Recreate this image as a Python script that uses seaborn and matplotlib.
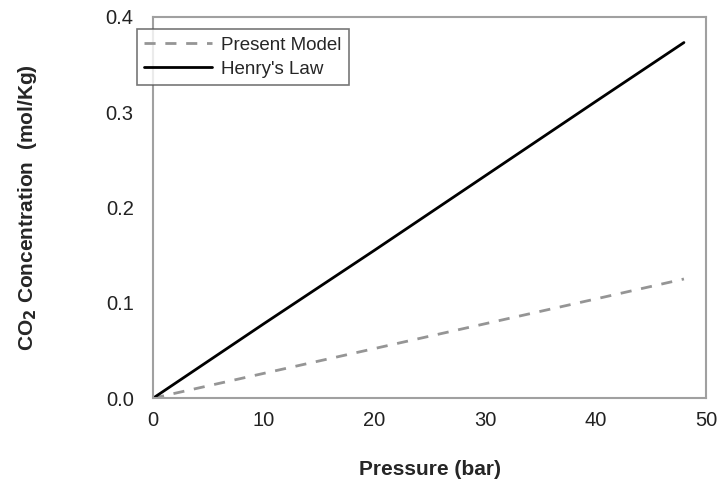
import matplotlib
matplotlib.use("Agg")
import matplotlib.pyplot as plt
import seaborn as sns
import pandas as pd

# values
pressure = [0, 10, 20, 30, 40, 48]
present_model = [0.0, 0.026, 0.052, 0.078, 0.104, 0.125]
henrys_law = [0.0, 0.078, 0.155, 0.233, 0.311, 0.373]

x_ticks = [0, 10, 20, 30, 40, 50]
y_ticks = [0.0, 0.1, 0.2, 0.3, 0.4]

sns.set_theme(style="white")
plt.rcParams["font.family"] = ["Liberation Sans", "DejaVu Sans"]

df = pd.DataFrame({"P": pressure, "model": present_model, "henry": henrys_law})

fig = plt.figure(figsize=(7.19, 4.94), dpi=100)
ax = fig.add_axes([0.213, 0.194, 0.769, 0.772])

sns.lineplot(data=df, x="P", y="model", ax=ax, color="#959595", lw=2.0,
             label="Present Model")
ax.lines[-1].set_dashes([4, 3.5])
sns.lineplot(data=df, x="P", y="henry", ax=ax, color="black", lw=2.0,
             label="Henry's Law")

ax.set_xlim(0, 50)
ax.set_ylim(0, 0.4)
ax.set_xticks(x_ticks)
ax.set_yticks(y_ticks)
ax.set_xticklabels([str(t) for t in x_ticks])
ax.set_yticklabels([f"{t:.1f}" for t in y_ticks])
ax.tick_params(axis="both", length=0, labelsize=14.5, colors="#222222")
ax.tick_params(axis="x", pad=9)
ax.tick_params(axis="y", pad=14)

for s in ax.spines.values():
    s.set_color("#a0a0a0")
    s.set_linewidth(1.5)

ax.set_xlabel("Pressure (bar)", fontsize=15, fontweight="bold", labelpad=22)
ax.set_ylabel("CO$_\\mathbf{2}$ Concentration  (mol/Kg)", fontsize=15,
              fontweight="bold", labelpad=48)

leg = ax.legend(loc="upper left", bbox_to_anchor=(-0.047, 0.992), fontsize=13.5,
                frameon=True, fancybox=False, handlelength=3.6,
                handletextpad=0.5, borderpad=0.4, labelspacing=0.35)
leg.get_frame().set_edgecolor("#555555")
leg.get_frame().set_linewidth(1.2)
for h in leg.get_lines()[:1]:
    h.set_dashes([4, 3.5])

fig.savefig("out.png", dpi=100)
